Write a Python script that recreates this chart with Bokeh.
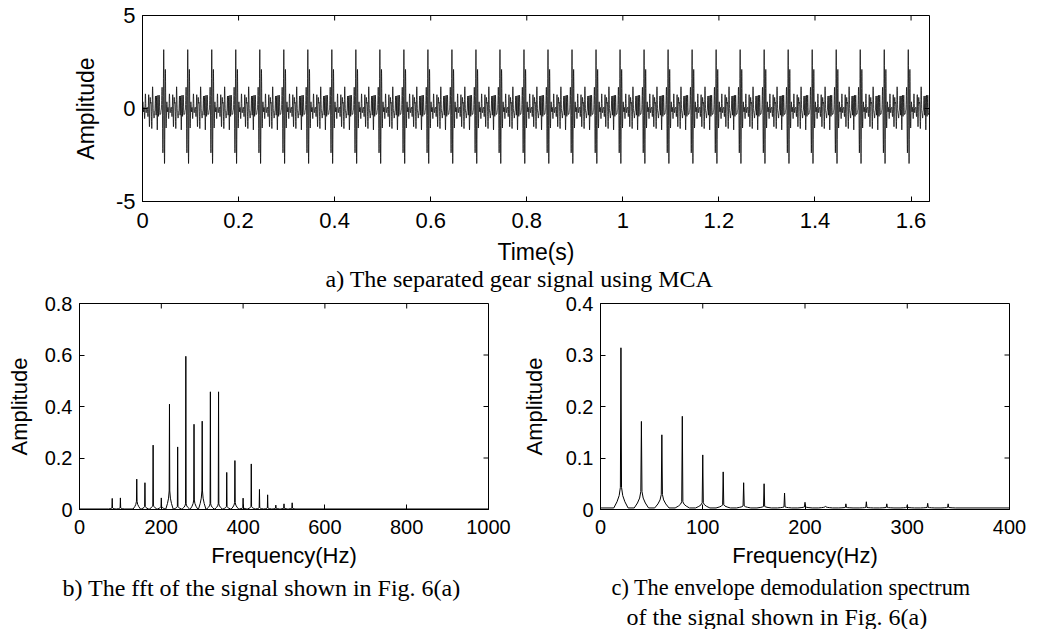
import numpy as np
from bokeh.plotting import figure
from bokeh.layouts import column, row
from bokeh.models import FixedTicker, Title, Range1d
from bokeh.embed import file_html
from bokeh.resources import INLINE

# ---------------- data ----------------
# (b) FFT spectral lines: frequency (Hz), peak amplitude, skirt height at base
FFT_FREQ = [80, 100, 140, 160, 180, 200, 220, 240, 260, 280, 300, 320, 340,
            360, 380, 400, 420, 440, 460, 480, 500, 520]
FFT_AMP = [0.043, 0.045, 0.118, 0.104, 0.250, 0.045, 0.409, 0.243, 0.595, 0.331,
           0.343, 0.457, 0.457, 0.144, 0.190, 0.044, 0.177, 0.078, 0.057, 0.017,
           0.022, 0.026]
FFT_BASE = [0.004, 0.004, 0.030, 0.010, 0.015, 0.010, 0.070, 0.010, 0.020, 0.035,
            0.070, 0.020, 0.020, 0.010, 0.025, 0.005, 0.010, 0.005, 0.004, 0.003,
            0.003, 0.003]
# phase of each line (deg) used to rebuild the time signal of (a)
FFT_PHASE_DEG = [0, -60, 150, -70, 40, 170, 80, 100, 90, 80, 95, 90, 85,
                 150, 30, 60, 140, -80, 20, 160, -45, 75]

# (c) envelope spectrum lines
ENV_FREQ = [20, 40, 60, 80, 100, 120, 140, 160, 180, 200, 220, 240, 260, 280, 300, 320, 340]
ENV_AMP = [0.314, 0.171, 0.145, 0.181, 0.106, 0.073, 0.052, 0.050, 0.032, 0.014,
           0.006, 0.011, 0.015, 0.011, 0.009, 0.012, 0.011]
ENV_BASE = [0.040, 0.032, 0.026, 0.012, 0.010, 0.006, 0.004, 0.003, 0.002, 0.002,
            0.002, 0.001, 0.001, 0.001, 0.001, 0.001, 0.001]

# (a) time axis
T_END = 1.6384
FS = 5000
T0 = 0.045  # time of first impulse (s)

# ticks / labels
A_XTICKS = [0, 0.2, 0.4, 0.6, 0.8, 1.0, 1.2, 1.4, 1.6]
A_XLABELS = ["0", "0.2", "0.4", "0.6", "0.8", "1", "1.2", "1.4", "1.6"]
A_YTICKS = [-5, 0, 5]
A_YLABELS = ["-5", "0", "5"]
B_XTICKS = [0, 200, 400, 600, 800, 1000]
B_YTICKS = [0, 0.2, 0.4, 0.6, 0.8]
B_YLABELS = ["0", "0.2", "0.4", "0.6", "0.8"]
C_XTICKS = [0, 100, 200, 300, 400]
C_YTICKS = [0, 0.1, 0.2, 0.3, 0.4]
C_YLABELS = ["0", "0.1", "0.2", "0.3", "0.4"]

CAP_A = "a) The separated gear signal using MCA"
CAP_B = "b) The fft of the signal shown in Fig. 6(a)"
CAP_C1 = "c) The envelope demodulation spectrum"
CAP_C2 = "of the signal shown in Fig. 6(a)"

SANS = "Liberation Sans"
SERIF = "Liberation Serif"
TICK_LEN = 5  # px


# ---------------- helpers ----------------
def spectrum_line(freqs, amps, bases, hw, x_max, floor):
    xs, ys = [0.0], [floor]
    for f, a, b in zip(freqs, amps, bases):
        xs += [f - hw, f - hw * 0.55, f - hw * 0.25, f - hw * 0.08, f, f + hw * 0.08,
               f + hw * 0.25, f + hw * 0.55, f + hw]
        ys += [floor, floor + b * 0.3, b * 0.6 + floor, b + floor, a, b + floor,
               b * 0.6 + floor, floor + b * 0.3, floor]
    xs.append(x_max)
    ys.append(floor)
    return xs, ys


def make_fig(fw, fh, xr, yr, bl, br, bt, bb):
    p = figure(frame_width=fw, frame_height=fh, x_range=Range1d(*xr), y_range=Range1d(*yr),
               output_backend="svg", toolbar_location=None,
               min_border_left=bl, min_border_right=br, min_border_top=bt, min_border_bottom=bb)
    p.outline_line_color = "black"
    p.outline_line_width = 1
    p.grid.visible = False
    p.background_fill_color = "white"
    p.border_fill_color = "white"
    return p


def style(p, fw, fh, xr, yr, xticks, yticks, xlabels, ylabels, xlab, ylab,
          tick_fs, lab_fs, xtick_so, xlab_so, ylab_so):
    xa = p.below[0]
    ya = p.left[0]
    xa.ticker = FixedTicker(ticks=xticks)
    ya.ticker = FixedTicker(ticks=yticks)
    xa.major_label_overrides = {t: l for t, l in zip(xticks, xlabels)}
    ya.major_label_overrides = {t: l for t, l in zip(yticks, ylabels)}
    xa.axis_label = xlab
    ya.axis_label = ylab
    for ax in (xa, ya):
        ax.axis_line_color = "black"
        ax.axis_line_width = 1
        ax.major_tick_in = TICK_LEN
        ax.major_tick_out = 0
        ax.major_tick_line_color = "black"
        ax.minor_tick_line_color = None
        ax.major_label_text_font = SANS
        ax.major_label_text_font_size = tick_fs
        ax.major_label_text_color = "black"
        ax.axis_label_text_font = SANS
        ax.axis_label_text_font_size = lab_fs
        ax.axis_label_text_font_style = "normal"
        ax.axis_label_text_color = "black"
    xa.major_label_standoff = xtick_so
    ya.major_label_standoff = 7
    xa.axis_label_standoff = xlab_so
    ya.axis_label_standoff = ylab_so
    # box ticks on the top and right edges (MATLAB style)
    dy = TICK_LEN * (yr[1] - yr[0]) / fh
    dx = TICK_LEN * (xr[1] - xr[0]) / fw
    p.segment(x0=xticks, y0=[yr[1]] * len(xticks), x1=xticks, y1=[yr[1] - dy] * len(xticks),
              line_color="black", line_width=1)
    p.segment(x0=[xr[1]] * len(yticks), y0=yticks, x1=[xr[1] - dx] * len(yticks), y1=yticks,
              line_color="black", line_width=1)


def caption(p, text, offset, fs, standoff=4):
    t = Title(text=text, align="left", offset=offset, text_font=SERIF,
              text_font_size=fs, text_font_style="normal", text_color="black",
              standoff=standoff)
    p.add_layout(t, "below")


# ---------------- (a) time signal ----------------
t = np.arange(0, T_END, 1.0 / FS)
sig = np.zeros_like(t)
for f, a, ph in zip(FFT_FREQ, FFT_AMP, FFT_PHASE_DEG):
    sig += a * np.cos(2 * np.pi * f * (t - T0) + np.deg2rad(ph))

A_FW, A_FH = 787, 186
pa = make_fig(A_FW, A_FH, (0, T_END), (-5, 5), 142, 100, 15, 93)
pa.line(t, sig, line_color="black", line_width=0.75)
style(pa, A_FW, A_FH, (0, T_END), (-5, 5), A_XTICKS, A_YTICKS, A_XLABELS, A_YLABELS,
      "Time(s)", "Amplitude", "22px", "23px", 11, 8, 14)
caption(pa, CAP_A, 183, "24px", standoff=-7)

# ---------------- (b) FFT ----------------
B_FW, B_FH = 409, 206
pb = make_fig(B_FW, B_FH, (0, 1000), (0, 0.8), 79, 30, 9, 118)
bx, by = spectrum_line(FFT_FREQ, FFT_AMP, FFT_BASE, 9, 1000, 0.002)
pb.line(bx, by, line_color="black", line_width=1)
style(pb, B_FW, B_FH, (0, 1000), (0, 0.8), B_XTICKS, B_YTICKS,
      [str(v) for v in B_XTICKS], B_YLABELS, "Frequency(Hz)", "Amplitude", "20px", "22px",
      10, 6, 10)
caption(pb, CAP_B, -17, "24px")

# ---------------- (c) envelope spectrum ----------------
C_FW, C_FH = 409, 206
pc = make_fig(C_FW, C_FH, (0, 400), (0, 0.4), 74, 20, 9, 118)
cx, cy = spectrum_line(ENV_FREQ, ENV_AMP, ENV_BASE, 7, 400, 0.003)
pc.line(cx, cy, line_color="black", line_width=1)
style(pc, C_FW, C_FH, (0, 400), (0, 0.4), C_XTICKS, C_YTICKS,
      [str(v) for v in C_XTICKS], C_YLABELS, "Frequency(Hz)", "Amplitude", "20px", "22px",
      10, 6, 16)
caption(pc, CAP_C1, 11, "22.3px")
caption(pc, CAP_C2, 26, "24px", standoff=0)

layout = column(pa, row(pb, pc))
open("out.html", "w").write(file_html(layout, INLINE))
